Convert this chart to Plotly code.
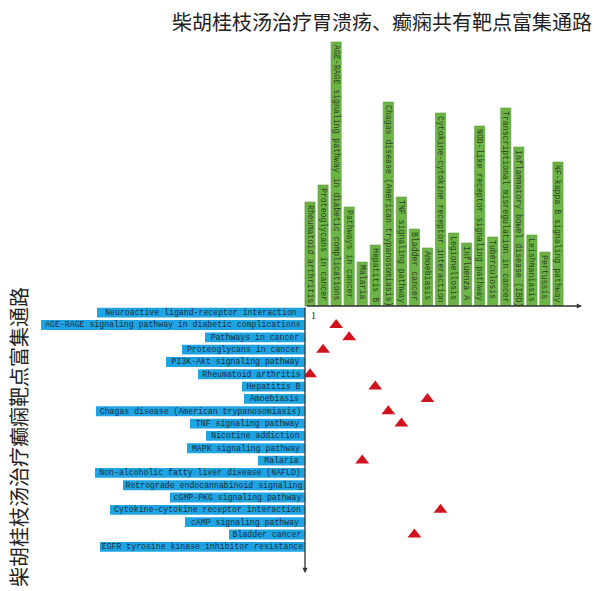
import plotly.graph_objects as go

W, H = 594, 591

# Pathways enriched by shared targets (gastric ulcer & epilepsy), top panel
top_paths = [
    "Rheumatoid arthritis", "Proteoglycans in cancer",
    "AGE-RAGE signaling pathway in diabetic complications", "Pathways in cancer",
    "Malaria", "Hepatitis B", "Chagas disease (American trypanosomiasis)",
    "TNF signaling pathway", "Bladder cancer", "Amoebiasis",
    "Cytokine-cytokine receptor interaction", "Legionellosis", "Influenza A",
    "NOD-like receptor signaling pathway", "Tuberculosis",
    "Transcriptional misregulation in cancer", "Inflammatory bowel disease (IBD)",
    "Leishmaniasis", "Pertussis", "NF-kappa B signaling pathway",
]
top_vals = [10.4, 12.1, 26.4, 9.9, 4.4, 6.1, 20.4, 10.9, 7.7, 5.8,
            19.3, 7.3, 6.3, 18.0, 6.9, 19.8, 15.9, 7.1, 5.4, 14.4]

# Pathways enriched by epilepsy targets, left panel
left_paths = [
    "Neuroactive ligand-receptor interaction",
    "AGE-RAGE signaling pathway in diabetic complications",
    "Pathways in cancer", "Proteoglycans in cancer", "PI3K-Akt signaling pathway",
    "Rheumatoid arthritis", "Hepatitis B", "Amoebiasis",
    "Chagas disease (American trypanosomiasis)", "TNF signaling pathway",
    "Nicotine addiction", "MAPK signaling pathway", "Malaria",
    "Non-alcoholic fatty liver disease (NAFLD)",
    "Retrograde endocannabinoid signaling", "cGMP-PKG signaling pathway",
    "Cytokine-cytokine receptor interaction", "cAMP signaling pathway",
    "Bladder cancer", "EGFR tyrosine kinase inhibitor resistance",
]
left_vals = [20.8, 26.4, 10.0, 12.3, 13.9, 10.7, 6.3, 6.1, 20.9, 11.5,
             9.9, 11.8, 4.7, 21.0, 18.2, 13.5, 19.5, 12.0, 7.6, 20.5]

# Pathways present in both lists
common = [p for p in left_paths if p in top_paths]

GREEN = "#6db446"
BLUE = "#1ea4e3"
RED = "#d0131c"
LABEL_FONT = "Liberation Mono"
LABEL_SIZE = 8.2

# pixel layout helpers
def px(x):
    return x / W

def py(y):
    return 1 - y / H

x0_px, x1_px = 303.5, 564.5      # top category axis
y_base, y_top = 306.0, 30.0      # top value axis
row_top, row_bot = 306.5, 553.0  # left category axis

fig = go.Figure()

fig.add_trace(go.Bar(
    x=top_paths, y=top_vals, xaxis="x", yaxis="y",
    marker=dict(color=GREEN, line=dict(color="#5a9a3a", width=0.6)),
    width=0.78,
    text=top_paths, textposition="inside", insidetextanchor="end",
    textangle=90,
    textfont=dict(family=LABEL_FONT, size=LABEL_SIZE, color="#2a4420"),
    hoverinfo="x+y", showlegend=False,
))

fig.add_trace(go.Bar(
    y=left_paths, x=left_vals, orientation="h", xaxis="x2", yaxis="y2",
    marker=dict(color=BLUE, line=dict(width=0)),
    width=0.8,
    text=left_paths, textposition="inside", insidetextanchor="middle",
    textangle=0,
    textfont=dict(family=LABEL_FONT, size=LABEL_SIZE, color="#1a3040"),
    hoverinfo="y+x", showlegend=False,
))

fig.add_trace(go.Scatter(
    x=common, y=common, xaxis="x", yaxis="y2", mode="markers",
    marker=dict(symbol="triangle-up", size=12, color=RED,
                line=dict(width=0)),
    hoverinfo="x", showlegend=False,
))

top_range = (y_base - y_top) / 10.0
left_range = 305.0 / 10.0

fig.update_layout(
    width=W, height=H,
    margin=dict(l=0, r=0, t=0, b=0),
    paper_bgcolor="white", plot_bgcolor="rgba(0,0,0,0)",
    bargap=0.2,
    uniformtext=dict(minsize=LABEL_SIZE, mode="show"),
    xaxis=dict(domain=[px(x0_px), px(x1_px)], anchor="y",
               categoryorder="array", categoryarray=top_paths,
               range=[-0.5, len(top_paths) - 0.5],
               showticklabels=False, showgrid=False, zeroline=False,
               showline=False, ticks=""),
    yaxis=dict(domain=[py(y_base), py(y_top)], anchor="x",
               range=[0, top_range],
               showticklabels=False, showgrid=False, zeroline=False,
               showline=False, ticks=""),
    xaxis2=dict(domain=[0, px(305.0)], anchor="y2",
                range=[left_range, 0],
                showticklabels=False, showgrid=False, zeroline=False,
                showline=False, ticks=""),
    yaxis2=dict(domain=[py(row_bot), py(row_top)], anchor="x2",
                categoryorder="array", categoryarray=left_paths,
                range=[len(left_paths) - 0.5, -0.5],
                showticklabels=False, showgrid=False, zeroline=False,
                showline=False, ticks=""),
    font=dict(family="Noto Sans CJK SC", color="#222"),
)

# axes drawn as arrows from the origin
ox, oy = 305.0, 306.0
fig.add_annotation(x=px(582), y=py(oy), xref="paper", yref="paper",
                   ax=-(582 - ox), ay=0, axref="pixel", ayref="pixel",
                   text="", showarrow=True, arrowhead=2, arrowsize=0.8,
                   arrowwidth=1.3, arrowcolor="#333")
fig.add_annotation(x=px(ox), y=py(573), xref="paper", yref="paper",
                   ax=0, ay=-(573 - oy), axref="pixel", ayref="pixel",
                   text="", showarrow=True, arrowhead=2, arrowsize=0.8,
                   arrowwidth=1.3, arrowcolor="#333")

fig.add_annotation(x=px(309), y=py(308), xref="paper", yref="paper",
                   text="1", showarrow=False, xanchor="left", yanchor="top",
                   font=dict(family="Liberation Serif", size=10, color="#222"))

# titles
fig.add_annotation(x=px(594), y=py(22), xref="paper", yref="paper",
                   text="柴胡桂枝汤治疗胃溃疡、癫痫共有靶点富集通路",
                   showarrow=False, xanchor="right", yanchor="middle",
                   font=dict(family="Noto Sans CJK SC", size=20, color="#222"))
fig.add_annotation(x=px(18), y=py(437), xref="paper", yref="paper",
                   text="柴胡桂枝汤治疗癫痫靶点富集通路",
                   showarrow=False, textangle=-90,
                   xanchor="center", yanchor="middle",
                   font=dict(family="Noto Sans CJK SC", size=20, color="#222"))

fig.write_html("out.html")
